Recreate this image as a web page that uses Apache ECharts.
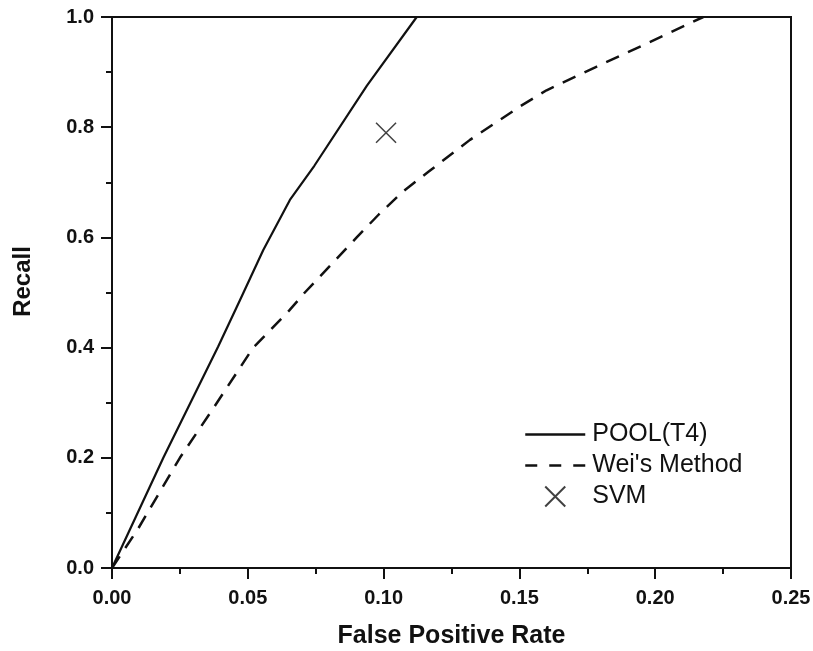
<!DOCTYPE html>
<html>
<head>
<meta charset="utf-8">
<script src="https://cdn.jsdelivr.net/npm/echarts@6/dist/echarts.min.js"></script>
<style>
  html, body { margin: 0; padding: 0; background: #fff; }
  #chart { width: 813px; height: 651px; }
</style>
</head>
<body>
<div id="chart"></div>
<script>
// ROC-style curves: recall against false positive rate
const poolFpr    = [0, 0.0189, 0.0391, 0.0471, 0.0557, 0.0655, 0.0745, 0.0938, 0.1122];
const poolRecall = [0, 0.200, 0.402, 0.486, 0.577, 0.668, 0.730, 0.875, 1.000];

const weiFpr    = [0, 0.0097, 0.025, 0.0361, 0.052, 0.0652, 0.0710, 0.0815, 0.0901, 0.0983, 0.1073, 0.1165, 0.1318, 0.150, 0.160, 0.1785, 0.1969, 0.2177];
const weiRecall = [0, 0.072, 0.200, 0.281, 0.400, 0.467, 0.500, 0.555, 0.600, 0.642, 0.684, 0.719, 0.777, 0.837, 0.867, 0.910, 0.952, 1.000];

const svmFpr = [0.1009];
const svmRecall = [0.790];

const seriesNames = ['POOL(T4)', "Wei's Method", 'SVM'];
const xTicks = { min: 0, max: 0.25, step: 0.05 };
const yTicks = { min: 0, max: 1.0, step: 0.2 };

const pairs = (xs, ys) => xs.map((x, i) => [x, ys[i]]);

const ink = '#111';
const font = '"Liberation Sans", Arial, sans-serif';

const chart = echarts.init(document.getElementById('chart'), null, { renderer: 'canvas' });

const axisCommon = {
  type: 'value',
  splitLine: { show: false },
  axisLine: { show: true, lineStyle: { color: ink, width: 2 } },
  axisTick: { show: true, inside: false, length: 11, lineStyle: { color: ink, width: 2 } },
  minorTick: { show: true, splitNumber: 2, length: 6, lineStyle: { color: ink, width: 2 } },
  minorSplitLine: { show: false },
  nameLocation: 'middle'
};

// line entries in the legend show only the stroke, no marker
const hiddenMarker = { opacity: 0 };

chart.setOption({
  animation: false,
  backgroundColor: '#fff',
  grid: {
    left: 112, top: 17, right: 22, bottom: 83,
    outerBoundsMode: 'none',
    containLabel: false,
    show: true, borderColor: ink, borderWidth: 2, backgroundColor: 'transparent'
  },
  xAxis: Object.assign({}, axisCommon, {
    min: xTicks.min, max: xTicks.max, interval: xTicks.step,
    name: 'False Positive Rate',
    nameGap: 56,
    nameTextStyle: { fontFamily: font, fontWeight: 'bold', fontSize: 25, color: ink },
    axisLabel: {
      margin: 20, fontFamily: font, fontWeight: 'bold', fontSize: 20, color: ink,
      formatter: v => v.toFixed(2)
    }
  }),
  yAxis: Object.assign({}, axisCommon, {
    min: yTicks.min, max: yTicks.max, interval: yTicks.step,
    name: 'Recall',
    nameGap: 77,
    nameTextStyle: { fontFamily: font, fontWeight: 'bold', fontSize: 24, color: ink, padding: [0, 0, 0, 22] },
    axisLabel: {
      margin: 18, fontFamily: font, fontWeight: 'bold', fontSize: 20, color: ink,
      formatter: v => v.toFixed(1)
    }
  }),
  legend: {
    orient: 'vertical',
    left: 519,
    top: 417,
    itemWidth: 60,
    itemHeight: 20,
    itemGap: 6,
    textStyle: { fontFamily: font, fontSize: 25, color: ink, lineHeight: 25, padding: [0, 0, 0, 2] },
    data: [
      { name: seriesNames[0], itemStyle: hiddenMarker, lineStyle: { width: 2.5 } },
      { name: seriesNames[1], itemStyle: hiddenMarker, lineStyle: { width: 2.5, type: [12, 12] } },
      { name: seriesNames[2] }
    ]
  },
  series: [
    {
      name: seriesNames[0],
      type: 'line',
      data: pairs(poolFpr, poolRecall),
      symbol: 'none',
      lineStyle: { color: ink, width: 2.2, type: 'solid' },
      itemStyle: { color: ink }
    },
    {
      name: seriesNames[1],
      type: 'line',
      data: pairs(weiFpr, weiRecall),
      symbol: 'none',
      lineStyle: { color: ink, width: 2.5, type: [14, 10] },
      itemStyle: { color: ink }
    },
    {
      name: seriesNames[2],
      type: 'scatter',
      data: pairs(svmFpr, svmRecall),
      symbol: 'path://M0,0L20,20M20,0L0,20',
      symbolSize: 20,
      itemStyle: { color: 'none', borderColor: ink, borderWidth: 1.5 }
    }
  ]
});
</script>
</body>
</html>
